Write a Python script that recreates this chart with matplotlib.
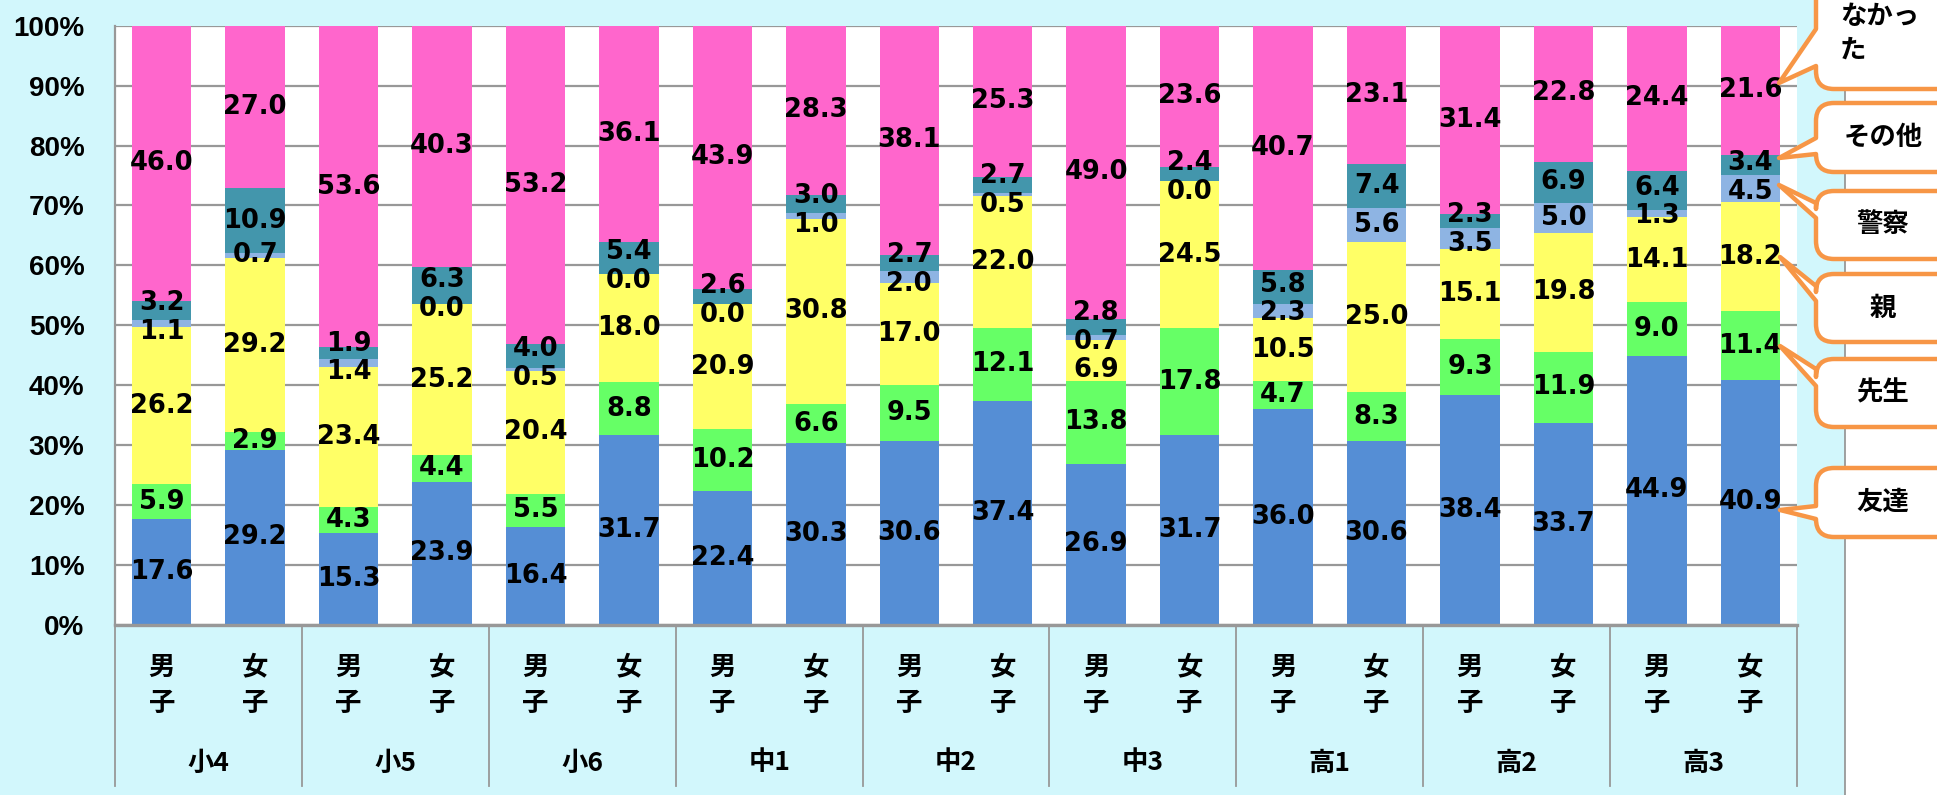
import matplotlib
matplotlib.use("Agg")
import matplotlib.pyplot as plt
from matplotlib.path import Path
from matplotlib.patches import PathPatch, Rectangle

plt.rcParams['font.family'] = ['Noto Sans CJK JP', 'DejaVu Sans']

# ---- data (bottom -> top stack order) ----
groups = ["小4", "小5", "小6", "中1", "中2", "中3", "高1", "高2", "高3"]
sexes = ["男\n子", "女\n子"]
series = ["友達", "先生", "親", "警察", "その他", "なかった"]
friends = [17.6, 29.2, 15.3, 23.9, 16.4, 31.7, 22.4, 30.3, 30.6, 37.4, 26.9, 31.7, 36.0, 30.6, 38.4, 33.7, 44.9, 40.9]
teacher = [5.9, 2.9, 4.3, 4.4, 5.5, 8.8, 10.2, 6.6, 9.5, 12.1, 13.8, 17.8, 4.7, 8.3, 9.3, 11.9, 9.0, 11.4]
parent = [26.2, 29.2, 23.4, 25.2, 20.4, 18.0, 20.9, 30.8, 17.0, 22.0, 6.9, 24.5, 10.5, 25.0, 15.1, 19.8, 14.1, 18.2]
police = [1.1, 0.7, 1.4, 0.0, 0.5, 0.0, 0.0, 1.0, 2.0, 0.5, 0.7, 0.0, 2.3, 5.6, 3.5, 5.0, 1.3, 4.5]
other = [3.2, 10.9, 1.9, 6.3, 4.0, 5.4, 2.6, 3.0, 2.7, 2.7, 2.8, 2.4, 5.8, 7.4, 2.3, 6.9, 6.4, 3.4]
nobody = [46.0, 27.0, 53.6, 40.3, 53.2, 36.1, 43.9, 28.3, 38.1, 25.3, 49.0, 23.6, 40.7, 23.1, 31.4, 22.8, 24.4, 21.6]
yticks = [0, 10, 20, 30, 40, 50, 60, 70, 80, 90, 100]

colors = ["#558ED5", "#66FF66", "#FFFF66", "#8EB4E3", "#4396AC", "#FF66CC"]
BG = "#D2F7FC"
GRID = "#989898"

W, H = 1937, 795
fig = plt.figure(figsize=(W / 100, H / 100), dpi=100)
fig.patch.set_facecolor(BG)

# plot area in pixels: x 115..1797, y 25.7..624.8 (from top)
px0, px1, py0, py1 = 115, 1797, 25.7, 624.8
ax = fig.add_axes([px0 / W, 1 - py1 / H, (px1 - px0) / W, (py1 - py0) / H])
ax.set_facecolor("white")
n = len(friends)
ax.set_xlim(0, n)
ax.set_ylim(0, 100)

stack = [friends, teacher, parent, police, other, nobody]
xs = [i + 0.5 for i in range(n)]
bottoms = [0.0] * n
for vals, col in zip(stack, colors):
    ax.bar(xs, vals, bottom=bottoms, width=0.636, color=col, edgecolor="none", zorder=3)
    bottoms = [b + v for b, v in zip(bottoms, vals)]


def spread(pos, minsep, iters=80):
    pos = list(pos)
    for _ in range(iters):
        moved = False
        for k in range(len(pos) - 1):
            gap = pos[k + 1] - pos[k]
            if gap < minsep - 1e-6:
                d = (minsep - gap) / 2
                pos[k] -= d
                pos[k + 1] += d
                moved = True
        if not moved:
            break
    return pos


for i in range(n):
    vals = [s[i] for s in stack]
    cum = 0.0
    centers = []
    for v in vals:
        centers.append(cum + v / 2)
        cum += v
    ys = spread(centers, 4.8)
    for v, y in zip(vals, ys):
        ax.text(xs[i], y, f"{v:.1f}", ha="center", va="center", fontsize=18.5,
                fontweight="bold", family="DejaVu Sans", color="black", zorder=5)

ax.set_yticks(yticks)
ax.set_yticklabels([f"{t}%" for t in yticks], fontsize=20, fontweight="bold",
                   family="Liberation Sans")
ax.set_xticks([])
ax.tick_params(axis="y", length=0, pad=22)
ax.yaxis.grid(True, color=GRID, linewidth=1.6, zorder=0)
ax.set_axisbelow(True)
for s in ["top", "right"]:
    ax.spines[s].set_visible(False)
ax.spines["left"].set_color(GRID)
ax.spines["left"].set_linewidth(1.6)
ax.spines["bottom"].set_color(GRID)
ax.spines["bottom"].set_linewidth(2.4)
ax.spines["bottom"].set_zorder(6)

# category axis (two levels)
tr = ax.get_xaxis_transform()
ybot = -(786 - py1) / (py1 - py0)
for g in range(len(groups) + 1):
    ax.plot([2 * g, 2 * g], [0, ybot], transform=tr, color=GRID, linewidth=1.3, clip_on=False)
yl1 = -(667 - py1) / (py1 - py0)
yl2 = -(703 - py1) / (py1 - py0)
yg = -(763 - py1) / (py1 - py0)
for i in range(n):
    a, b = sexes[i % 2].split("\n")
    ax.text(xs[i], yl1, a, transform=tr, ha="center", va="center", fontsize=19, fontweight="bold")
    ax.text(xs[i], yl2, b, transform=tr, ha="center", va="center", fontsize=19, fontweight="bold")
for g, name in enumerate(groups):
    ax.text(2 * g + 1, yg, name, transform=tr, ha="center", va="center", fontsize=19, fontweight="bold")

# overlay for right panel and callouts (pixel coords)
ov = fig.add_axes([0, 0, 1, 1], zorder=10)
ov.set_xlim(0, W)
ov.set_ylim(H, 0)
ov.axis("off")
ov.add_patch(Rectangle((1845, -5), 200, H + 10, facecolor="white", edgecolor="none", zorder=1))
ov.plot([1845, 1845], [0, H], color=GRID, linewidth=1.3, zorder=2)

ORANGE = "#F79646"


def callout(x0, y0, y1, tip, b1, b2, r=18, x1=1980):
    verts = [(x0 + r, y0), (x1, y0), (x1, y1), (x0 + r, y1), (x0, y1), (x0, y1 - r),
             (x0, b2), tip, (x0, b1), (x0, y0 + r), (x0, y0), (x0 + r, y0), (x0 + r, y0)]
    codes = [Path.MOVETO, Path.LINETO, Path.LINETO, Path.LINETO, Path.CURVE3, Path.CURVE3,
             Path.LINETO, Path.LINETO, Path.LINETO, Path.LINETO, Path.CURVE3, Path.CURVE3,
             Path.CLOSEPOLY]
    ov.add_patch(PathPatch(Path(verts, codes), facecolor="white", edgecolor=ORANGE,
                           linewidth=3.2, joinstyle="round", zorder=3))


bx = 1816
# (label, box top, box bottom, tip, base1, base2)
callouts = [
    ("その他", 103, 172, (1779, 158), 138, 154),
    ("警察", 191, 259, (1779, 185), 203, 218),
    ("親", 274, 342, (1780, 257), 286, 301),
    ("先生", 359, 427, (1780, 346), 369, 386),
    ("友達", 468, 537, (1780, 510), 506, 519),
]
callout(bx, -40, 89, (1779, 83), 29, 66)
ov.text(1840, 17, "なかっ", ha="left", va="center", fontsize=19, fontweight="bold", zorder=4)
ov.text(1840, 50, "た", ha="left", va="center", fontsize=19, fontweight="bold", zorder=4)
for lab, t, b, tip, b1, b2 in callouts:
    callout(bx, t, b, tip, b1, b2)
    ov.text(1883, (t + b) / 2, lab, ha="center", va="center", fontsize=19, fontweight="bold", zorder=4)

fig.savefig("out.png", dpi=100, facecolor=BG)
